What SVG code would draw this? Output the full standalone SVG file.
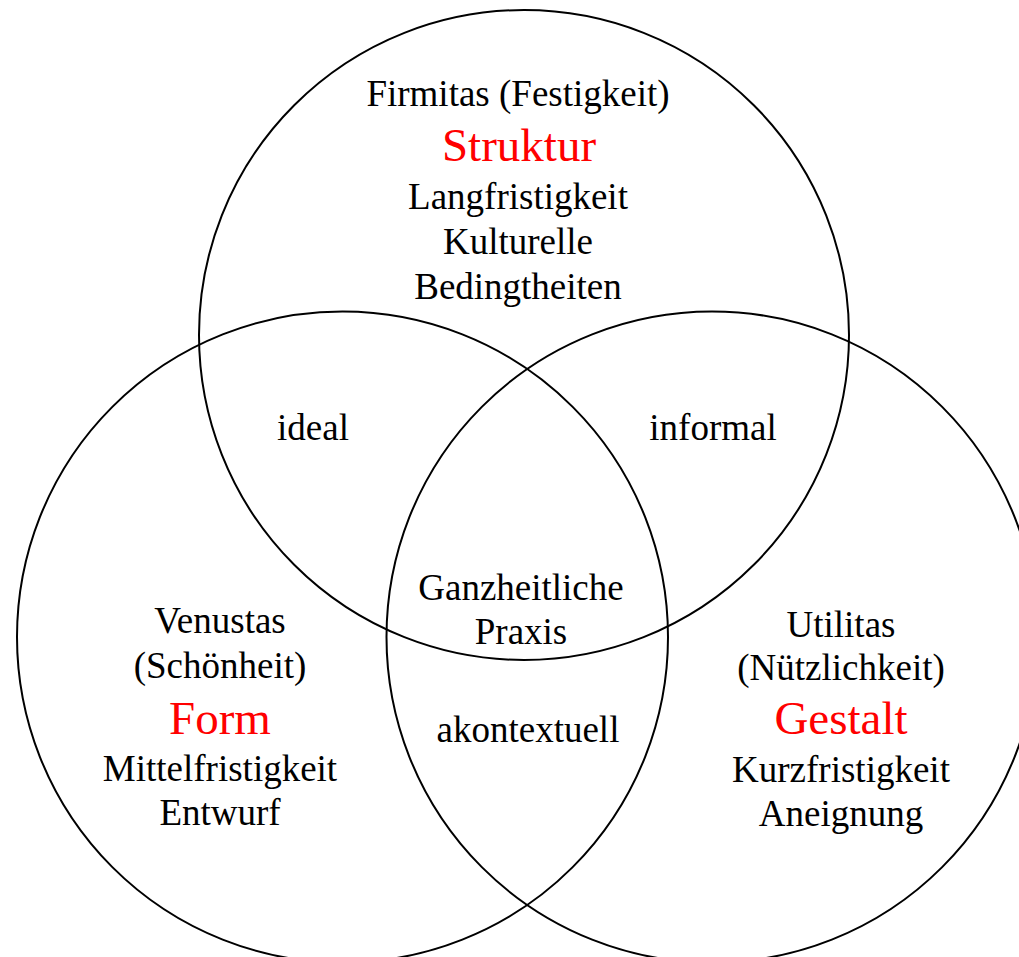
<svg xmlns="http://www.w3.org/2000/svg" width="1019" height="957" viewBox="0 0 1019 957">
<style>
.c{fill:none;stroke:#000;stroke-width:2}
text{font-family:"Liberation Serif","Times New Roman",serif;font-size:37px;text-anchor:middle;fill:#000}
.r{fill:#ff0000;font-size:47px}
</style>
<rect width="1019" height="957" fill="#fff"/>
<g id="connectors"></g>
<g id="firmitas">
<circle class="c" cx="524" cy="335" r="325"/>
<text x="518" y="106">Firmitas (Festigkeit)</text>
<text class="r" x="519" y="161">Struktur</text>
<text x="518" y="209">Langfristigkeit</text>
<text x="518" y="254">Kulturelle</text>
<text x="518" y="299">Bedingtheiten</text>
</g>
<g id="venustas">
<circle class="c" cx="342.5" cy="637" r="325.5"/>
<text x="220" y="633">Venustas</text>
<text x="220" y="678">(Schönheit)</text>
<text class="r" x="220" y="734">Form</text>
<text x="220" y="781">Mittelfristigkeit</text>
<text x="220" y="825">Entwurf</text>
</g>
<g id="utilitas">
<circle class="c" cx="712" cy="637" r="325.5"/>
<text x="841" y="637">Utilitas</text>
<text x="841" y="680">(Nützlichkeit)</text>
<text class="r" x="841" y="734">Gestalt</text>
<text x="841" y="782">Kurzfristigkeit</text>
<text x="841" y="826">Aneignung</text>
</g>
<g id="ideal"><text x="313" y="440">ideal</text></g>
<g id="informal"><text x="713" y="440">informal</text></g>
<g id="ganzheitlich">
<text x="521" y="600">Ganzheitliche</text>
<text x="521" y="644">Praxis</text>
</g>
<g id="akontextuell"><text x="528" y="742">akontextuell</text></g>
</svg>
